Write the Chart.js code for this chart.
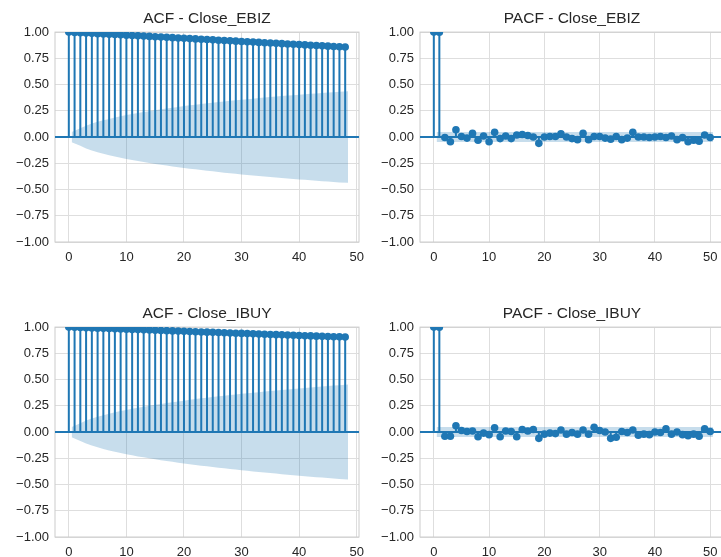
<!DOCTYPE html>
<html>
<head>
<meta charset="utf-8">
<script src="https://cdn.jsdelivr.net/npm/chart.js@4.4.1/dist/chart.umd.min.js"></script>
<style>
  body { margin: 0; width: 721px; height: 557px; overflow: hidden; background: #fff; position: relative; }
  canvas { position: absolute; }
</style>
</head>
<body>
<canvas id="acfEbiz" width="365" height="270" style="left:0;top:0"></canvas>
<canvas id="pacfEbiz" width="363" height="270" style="left:365px;top:0"></canvas>
<canvas id="acfIbuy" width="365" height="265" style="left:0;top:295px"></canvas>
<canvas id="pacfIbuy" width="363" height="265" style="left:365px;top:295px"></canvas>
<script>
// values (lag 0 first)
const acfEbiz = [1.000, 0.997, 0.994, 0.991, 0.988, 0.985, 0.982, 0.979, 0.977, 0.974,
  0.971, 0.968, 0.965, 0.962, 0.959, 0.956, 0.953, 0.950, 0.947, 0.944,
  0.941, 0.938, 0.935, 0.932, 0.929, 0.926, 0.923, 0.920, 0.917, 0.914,
  0.911, 0.908, 0.905, 0.902, 0.899, 0.896, 0.893, 0.890, 0.887, 0.884,
  0.881, 0.878, 0.875, 0.872, 0.869, 0.866, 0.863, 0.861, 0.858];
const acfIbuy = [1.000, 0.998, 0.996, 0.994, 0.992, 0.990, 0.988, 0.986, 0.984, 0.982,
  0.980, 0.978, 0.976, 0.974, 0.972, 0.970, 0.968, 0.966, 0.964, 0.962,
  0.960, 0.958, 0.956, 0.954, 0.952, 0.950, 0.948, 0.946, 0.944, 0.942,
  0.940, 0.938, 0.936, 0.934, 0.932, 0.930, 0.928, 0.926, 0.924, 0.922,
  0.920, 0.918, 0.916, 0.914, 0.912, 0.910, 0.908, 0.907, 0.905];
const pacfEbiz = [1.000, 0.998, -0.005, -0.045, 0.070, 0.005, -0.010, 0.035, -0.030, 0.010,
  -0.045, 0.045, -0.015, 0.010, -0.015, 0.020, 0.025, 0.015, 0.000, -0.060,
  0.000, 0.005, 0.005, 0.030, 0.000, -0.015, -0.025, 0.035, -0.025, 0.005,
  0.005, -0.010, -0.020, 0.005, -0.025, -0.010, 0.045, 0.000, 0.000, -0.005,
  0.000, 0.005, -0.005, 0.010, -0.025, -0.005, -0.045, -0.030, -0.040, 0.020,
  -0.005];
const pacfIbuy = [1.000, 0.998, -0.040, -0.040, 0.060, 0.015, 0.005, 0.010, -0.045, -0.010,
  -0.025, 0.040, -0.045, 0.010, 0.005, -0.045, 0.025, 0.010, 0.025, -0.060,
  -0.020, -0.010, -0.015, 0.020, -0.020, -0.005, -0.020, 0.020, -0.020, 0.045,
  0.015, 0.000, -0.060, -0.050, 0.005, -0.005, 0.020, -0.030, -0.020, -0.025,
  0.000, -0.005, 0.030, -0.020, 0.000, -0.025, -0.035, -0.020, -0.040, 0.030,
  0.005];

// half-width of the 95% band, lag 1 first
const confAcfEbiz = [0.049, 0.084, 0.108, 0.128, 0.145, 0.160, 0.173, 0.186, 0.198, 0.209,
  0.219, 0.229, 0.238, 0.247, 0.256, 0.264, 0.272, 0.280, 0.287, 0.295,
  0.302, 0.308, 0.315, 0.321, 0.327, 0.333, 0.339, 0.345, 0.350, 0.356,
  0.361, 0.366, 0.371, 0.376, 0.381, 0.386, 0.390, 0.395, 0.399, 0.404,
  0.408, 0.412, 0.416, 0.420, 0.424, 0.428, 0.432, 0.436];
const confAcfIbuy = [0.049, 0.085, 0.109, 0.129, 0.146, 0.161, 0.175, 0.188, 0.200, 0.211,
  0.222, 0.232, 0.241, 0.250, 0.259, 0.268, 0.276, 0.284, 0.292, 0.299,
  0.307, 0.314, 0.321, 0.327, 0.334, 0.340, 0.346, 0.352, 0.358, 0.364,
  0.369, 0.375, 0.380, 0.386, 0.391, 0.396, 0.401, 0.406, 0.411, 0.416,
  0.420, 0.425, 0.430, 0.434, 0.439, 0.443, 0.447, 0.452];
const confPacf = 0.047;

const xTicks = [0, 10, 20, 30, 40, 50];
const yTicks = [-1, -0.75, -0.5, -0.25, 0, 0.25, 0.5, 0.75, 1];

const blue = "#1f77b4";
const font = "'Liberation Sans', Arial, sans-serif";

function bandPoints(conf, sign) {
  return conf.map((c, i) => {
    let x = i + 1;
    if (i === 0) x -= 0.5;
    if (i === conf.length - 1) x += 0.5;
    return { x: x, y: sign * c };
  });
}

function stemPoints(vals) {
  const pts = [];
  vals.forEach((v, i) => {
    pts.push({ x: i, y: 0 }, { x: i, y: v }, { x: i, y: null });
  });
  return pts;
}

const frame = {
  id: "frame",
  beforeDatasetsDraw(chart) {
    const a = chart.chartArea;
    const ctx = chart.ctx;
    ctx.save();
    ctx.strokeStyle = "#cccccc";
    ctx.lineWidth = 1;
    ctx.strokeRect(a.left, a.top, a.right - a.left, a.bottom - a.top);
    ctx.restore();
  },
};

function makeChart(id, title, vals, conf, xMin, xMax, axisH, padRight) {
  new Chart(document.getElementById(id), {
    type: "line",
    data: {
      datasets: [
        {
          data: vals.map((v, i) => ({ x: i, y: v })),
          showLine: false,
          pointRadius: 3.8,
          pointBackgroundColor: blue,
          pointBorderWidth: 0,
          clip: 0,
        },
        {
          data: stemPoints(vals),
          borderColor: blue,
          borderWidth: 2,
          pointRadius: 0,
          spanGaps: false,
          clip: 0,
        },
        {
          data: [{ x: xMin, y: 0 }, { x: xMax, y: 0 }],
          borderColor: blue,
          borderWidth: 2,
          pointRadius: 0,
          clip: 0,
        },
        {
          data: bandPoints(conf, 1),
          borderWidth: 0,
          pointRadius: 0,
          backgroundColor: "rgba(31,119,180,0.25)",
          fill: "+1",
          clip: 0,
        },
        {
          data: bandPoints(conf, -1),
          borderWidth: 0,
          pointRadius: 0,
          fill: false,
          clip: 0,
        },
      ],
    },
    options: {
      responsive: false,
      animation: false,
      events: [],
      layout: { padding: { top: 0, right: padRight, left: 0, bottom: 0 } },
      plugins: {
        legend: { display: false },
        tooltip: { enabled: false },
        title: {
          display: true,
          text: title,
          fullSize: false,
          color: "#262626",
          font: { family: font, size: 15.5, weight: "normal" },
          padding: { top: 9.5, bottom: 4 },
        },
      },
      scales: {
        x: {
          type: "linear",
          min: xMin,
          max: xMax,
          afterBuildTicks: (s) => { s.ticks = xTicks.map((v) => ({ value: v })); },
          afterFit: (s) => { s.height = axisH; s.paddingLeft = 0; s.paddingRight = 0; },
          grid: { color: "#dedede", lineWidth: 1, drawTicks: false },
          border: { display: false },
          ticks: { color: "#262626", font: { family: font, size: 13 }, padding: 8, maxRotation: 0 },
        },
        y: {
          min: -1,
          max: 1,
          afterBuildTicks: (s) => { s.ticks = yTicks.map((v) => ({ value: v })); },
          afterFit: (s) => { s.width = 55; s.paddingTop = 0; s.paddingBottom = 0; },
          grid: { color: "#dedede", lineWidth: 1, drawTicks: false },
          border: { display: false },
          ticks: {
            color: "#262626",
            font: { family: font, size: 13 },
            padding: 6,
            callback: (v) => v.toFixed(2).replace("-", "\u2212"),
          },
        },
      },
    },
    plugins: [frame],
  });
}

makeChart("acfEbiz", "ACF - Close_EBIZ", acfEbiz, confAcfEbiz, -2.4, 50.4, 28, 6);
makeChart("pacfEbiz", "PACF - Close_EBIZ", pacfEbiz, pacfEbiz.slice(1).map(() => confPacf), -2.5, 52.5, 28, 0);
makeChart("acfIbuy", "ACF - Close_IBUY", acfIbuy, confAcfIbuy, -2.4, 50.4, 23, 6);
makeChart("pacfIbuy", "PACF - Close_IBUY", pacfIbuy, pacfIbuy.slice(1).map(() => confPacf), -2.5, 52.5, 23, 0);
</script>
</body>
</html>
